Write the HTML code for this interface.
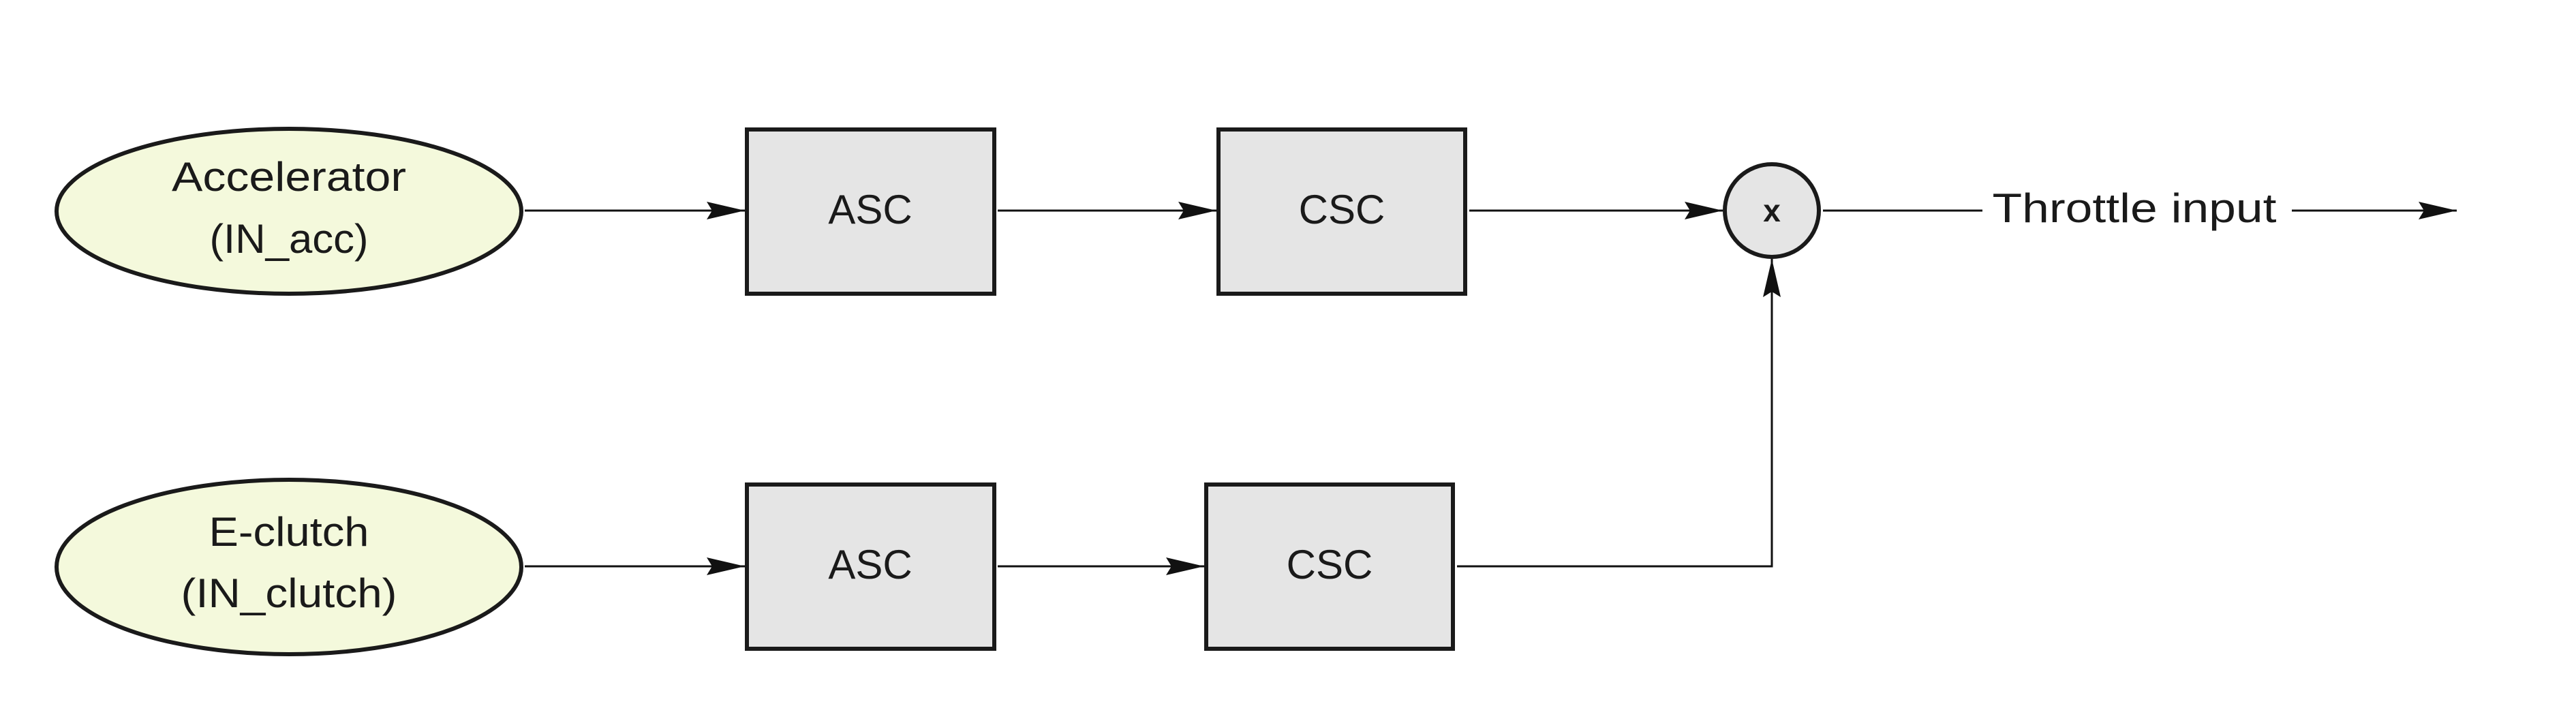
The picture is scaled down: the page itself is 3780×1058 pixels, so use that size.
<!DOCTYPE html>
<html><head><style>html,body{margin:0;padding:0;background:#fff}svg{display:block}</style></head>
<body>
<svg width="3780" height="1058" viewBox="0 0 3780 1058" xmlns="http://www.w3.org/2000/svg" font-family="'Liberation Sans', sans-serif" font-size="60" fill="#1a1a1a">
<defs>
<marker id="b" viewBox="0 0 56 26" refX="56" refY="13" markerWidth="56" markerHeight="26" orient="auto" markerUnits="userSpaceOnUse">
<path d="M0,0 L56,13 L0,26 L8,13 z" fill="#111"/></marker>
</defs>
<g stroke="#1a1a1a" stroke-width="6">
<ellipse cx="424" cy="310" rx="341" ry="121" fill="#f4f9dc"/>
<ellipse cx="424" cy="832" rx="341" ry="128" fill="#f4f9dc"/>
<rect x="1096" y="190" width="363" height="241" fill="#e5e5e5"/>
<rect x="1788" y="190" width="362" height="241" fill="#e5e5e5"/>
<rect x="1096" y="711" width="363" height="241" fill="#e5e5e5"/>
<rect x="1770" y="711" width="362" height="241" fill="#e5e5e5"/>
<ellipse cx="2600" cy="309" rx="69" ry="68" fill="#e5e5e5"/>
</g>
<g stroke="#111" stroke-width="3" fill="none">
<line x1="770" y1="309" x2="1093" y2="309" marker-end="url(#b)"/>
<line x1="1464" y1="309" x2="1785" y2="309" marker-end="url(#b)"/>
<line x1="2156" y1="309" x2="2528" y2="309" marker-end="url(#b)"/>
<line x1="2675" y1="309" x2="2909" y2="309"/>
<line x1="3363" y1="309" x2="3605" y2="309" marker-end="url(#b)"/>
<line x1="770" y1="831" x2="1093" y2="831" marker-end="url(#b)"/>
<line x1="1464" y1="831" x2="1767" y2="831" marker-end="url(#b)"/>
<polyline points="2138,831 2600,831 2600,380" marker-end="url(#b)"/>
</g>
<g text-anchor="middle" lengthAdjust="spacingAndGlyphs">
<text x="424" y="280" textLength="344" lengthAdjust="spacingAndGlyphs">Accelerator</text>
<text x="424" y="371" textLength="233" lengthAdjust="spacingAndGlyphs">(IN_acc)</text>
<text x="424" y="801" textLength="235" lengthAdjust="spacingAndGlyphs">E-clutch</text>
<text x="424" y="891" textLength="317" lengthAdjust="spacingAndGlyphs">(IN_clutch)</text>
<text x="1277" y="328">ASC</text>
<text x="1969" y="328">CSC</text>
<text x="1277" y="849">ASC</text>
<text x="1951" y="849">CSC</text>
<text x="2600" y="325" font-size="46" font-weight="bold">x</text>
<text x="3132" y="326" textLength="417" lengthAdjust="spacingAndGlyphs">Throttle input</text>
</g>
</svg>
</body></html>
